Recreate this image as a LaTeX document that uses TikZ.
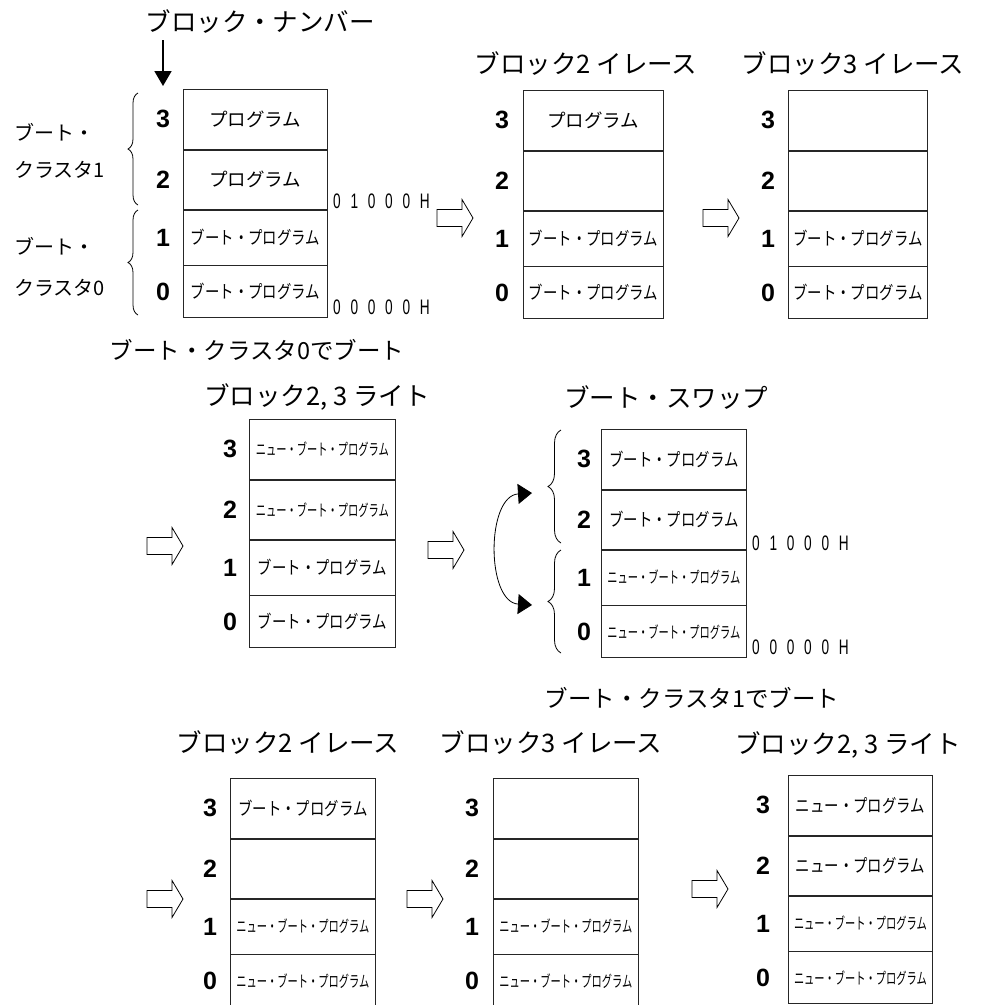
\documentclass[tikz,border=0pt]{standalone}
\usepackage{fontspec}
\usepackage{graphicx}
\setmainfont{Liberation Sans}
\newfontfamily\jp{Noto Sans CJK JP}
\newfontfamily\numf{Liberation Sans}
\usetikzlibrary{decorations.pathreplacing,arrows.meta}

\newcommand{\pg}{{\jp\fontsize{18.5}{20}\selectfont プログラム}}
\newcommand{\bpg}{\scalebox{0.8}[1]{\jp\fontsize{18}{20}\selectfont ブート・プログラム}}
\newcommand{\nbpg}{\scalebox{0.64}[1]{\jp\fontsize{16}{18}\selectfont ニュー・ブート・プログラム}}
\newcommand{\npg}{\scalebox{0.8}[1]{\jp\fontsize{18}{20}\selectfont ニュー・プログラム}}
\newcommand{\hexl}[1]{\scalebox{0.65}[1]{\numf\fontsize{21}{22}\selectfont #1}}
\def\hk{\kern15pt}

\tikzset{
  cell/.style={draw=black!85, line width=0.8pt, anchor=north west, inner sep=0pt},
  num/.style={font=\numf\bfseries\fontsize{25}{27}\selectfont, inner sep=0pt},
  title/.style={font=\jp\fontsize{25.5}{28}\selectfont, inner sep=0pt},
  side/.style={font=\jp\fontsize{20}{22}\selectfont, inner sep=0pt, anchor=west},
  hexlab/.style={inner sep=0pt, anchor=west},
  curly/.style={decorate, decoration={brace, amplitude=#1}, line width=0.8pt},
  harrow/.pic={\draw[line width=0.8pt] (0,-8.5) -- (25,-8.5) -- (25,-18.5) -- (36,0) -- (25,18.5) -- (25,8.5) -- (0,8.5) -- cycle;},
  swap/.style={{Triangle[length=14pt,width=20pt]}-{Triangle[length=14pt,width=20pt]}, line width=0.8pt},
}

\newcommand{\memblock}[9]{%
  \node[cell, minimum width=#4pt, minimum height=60pt] (#1-3) at (#2,#3) {#5};
  \node[cell, minimum width=#4pt, minimum height=59pt] (#1-2) at (#1-3.south west) {#6};
  \node[cell, minimum width=#4pt, minimum height=55pt] (#1-1) at (#1-2.south west) {#7};
  \node[cell, minimum width=#4pt, minimum height=52pt] (#1-0) at (#1-1.south west) {#8};
  \foreach \k in {3,2,1,0} {\node[num] (#1-n\k) at ([xshift=-#9pt]#1-\k.west) {\k};}
}

\begin{document}
\begin{tikzpicture}[x=1pt,y=-1pt]
\useasboundingbox (0,0) rectangle (989,1005);

% ---------- panel 1 ----------
\node[title] (bn) at (260,22) {ブロック・ナンバー};
\coordinate (bnA) at (163,40);
\coordinate (bnB) at (163,86);
\draw[-{Triangle[length=15pt,width=17pt]}, line width=1.8pt] (bnA) -- (bnB);

\memblock{p1}{183}{89}{144}{\pg}{\pg}{\bpg}{\bpg}{20}
\coordinate (b1a) at (138,205); \coordinate (b1b) at (138,93);
\draw[curly=10pt] (b1a) -- (b1b);
\coordinate (b0a) at (138,315); \coordinate (b0b) at (138,210);
\draw[curly=10pt] (b0a) -- (b0b);
\node[side] (s1a) at (14,132) {ブート・};
\node[side] (s1b) at (14,170) {クラスタ1};
\node[side] (s0a) at (14,246) {ブート・};
\node[side] (s0b) at (14,288) {クラスタ0};
\node[hexlab] (h1a) at (333,201) {\hexl{0\hk 1\hk 0\hk 0\hk 0\hk H}};
\node[hexlab] (h1b) at (333,307) {\hexl{0\hk 0\hk 0\hk 0\hk 0\hk H}};
\node[title, font=\jp\fontsize{23.5}{26}\selectfont] (c0) at (257,350) {ブート・クラスタ0でブート};

\pic at (437,218) {harrow};

% ---------- panel 2 ----------
\node[title] (t1) at (586,64) {ブロック2 イレース};
\memblock{p2}{523}{90}{140}{\pg}{}{\bpg}{\bpg}{21}

\pic at (703,218) {harrow};

% ---------- panel 3 ----------
\node[title] (t2) at (853,64) {ブロック3 イレース};
\memblock{p3}{788}{90}{139}{}{}{\bpg}{\bpg}{20}

% ---------- row 2 ----------
\pic at (147,546) {harrow};
\node[title] (t3) at (317,397) {ブロック2, 3 ライト};
\memblock{p4}{249}{419}{146}{\nbpg}{\nbpg}{\bpg}{\bpg}{19}

\pic at (428,550) {harrow};

\node[title] (t4) at (666,398) {ブート・スワップ};
\memblock{p5}{601}{429}{145}{\bpg}{\bpg}{\nbpg}{\nbpg}{17}
\coordinate (b3a) at (561,543); \coordinate (b3b) at (561,430);
\draw[curly=13pt] (b3a) -- (b3b);
\coordinate (b2a) at (561,653); \coordinate (b2b) at (561,550);
\draw[curly=13pt] (b2a) -- (b2b);
\coordinate (swT) at (532,493);
\coordinate (swB) at (532,605);
\draw[swap] (swT) .. controls (486,496) and (486,602) .. (swB);
\node[hexlab] (h5a) at (752,543) {\hexl{0\hk 1\hk 0\hk 0\hk 0\hk H}};
\node[hexlab] (h5b) at (752,647) {\hexl{0\hk 0\hk 0\hk 0\hk 0\hk H}};
\node[title, font=\jp\fontsize{23.5}{26}\selectfont] (c1) at (692,698) {ブート・クラスタ1でブート};

% ---------- row 3 ----------
\pic at (147,899) {harrow};
\node[title] (t5) at (288,743) {ブロック2 イレース};
\memblock{p6}{230}{778}{145}{\bpg}{}{\nbpg}{\nbpg}{20}

\pic at (407,899) {harrow};
\node[title] (t6) at (551,743) {ブロック3 イレース};
\memblock{p7}{493}{778}{145}{}{}{\nbpg}{\nbpg}{21}

\pic at (692,889) {harrow};
\node[title] (t7) at (848,745) {ブロック2, 3 ライト};
\memblock{p8}{788}{775}{144}{\npg}{\npg}{\nbpg}{\nbpg}{25}
\end{tikzpicture}
\end{document}
